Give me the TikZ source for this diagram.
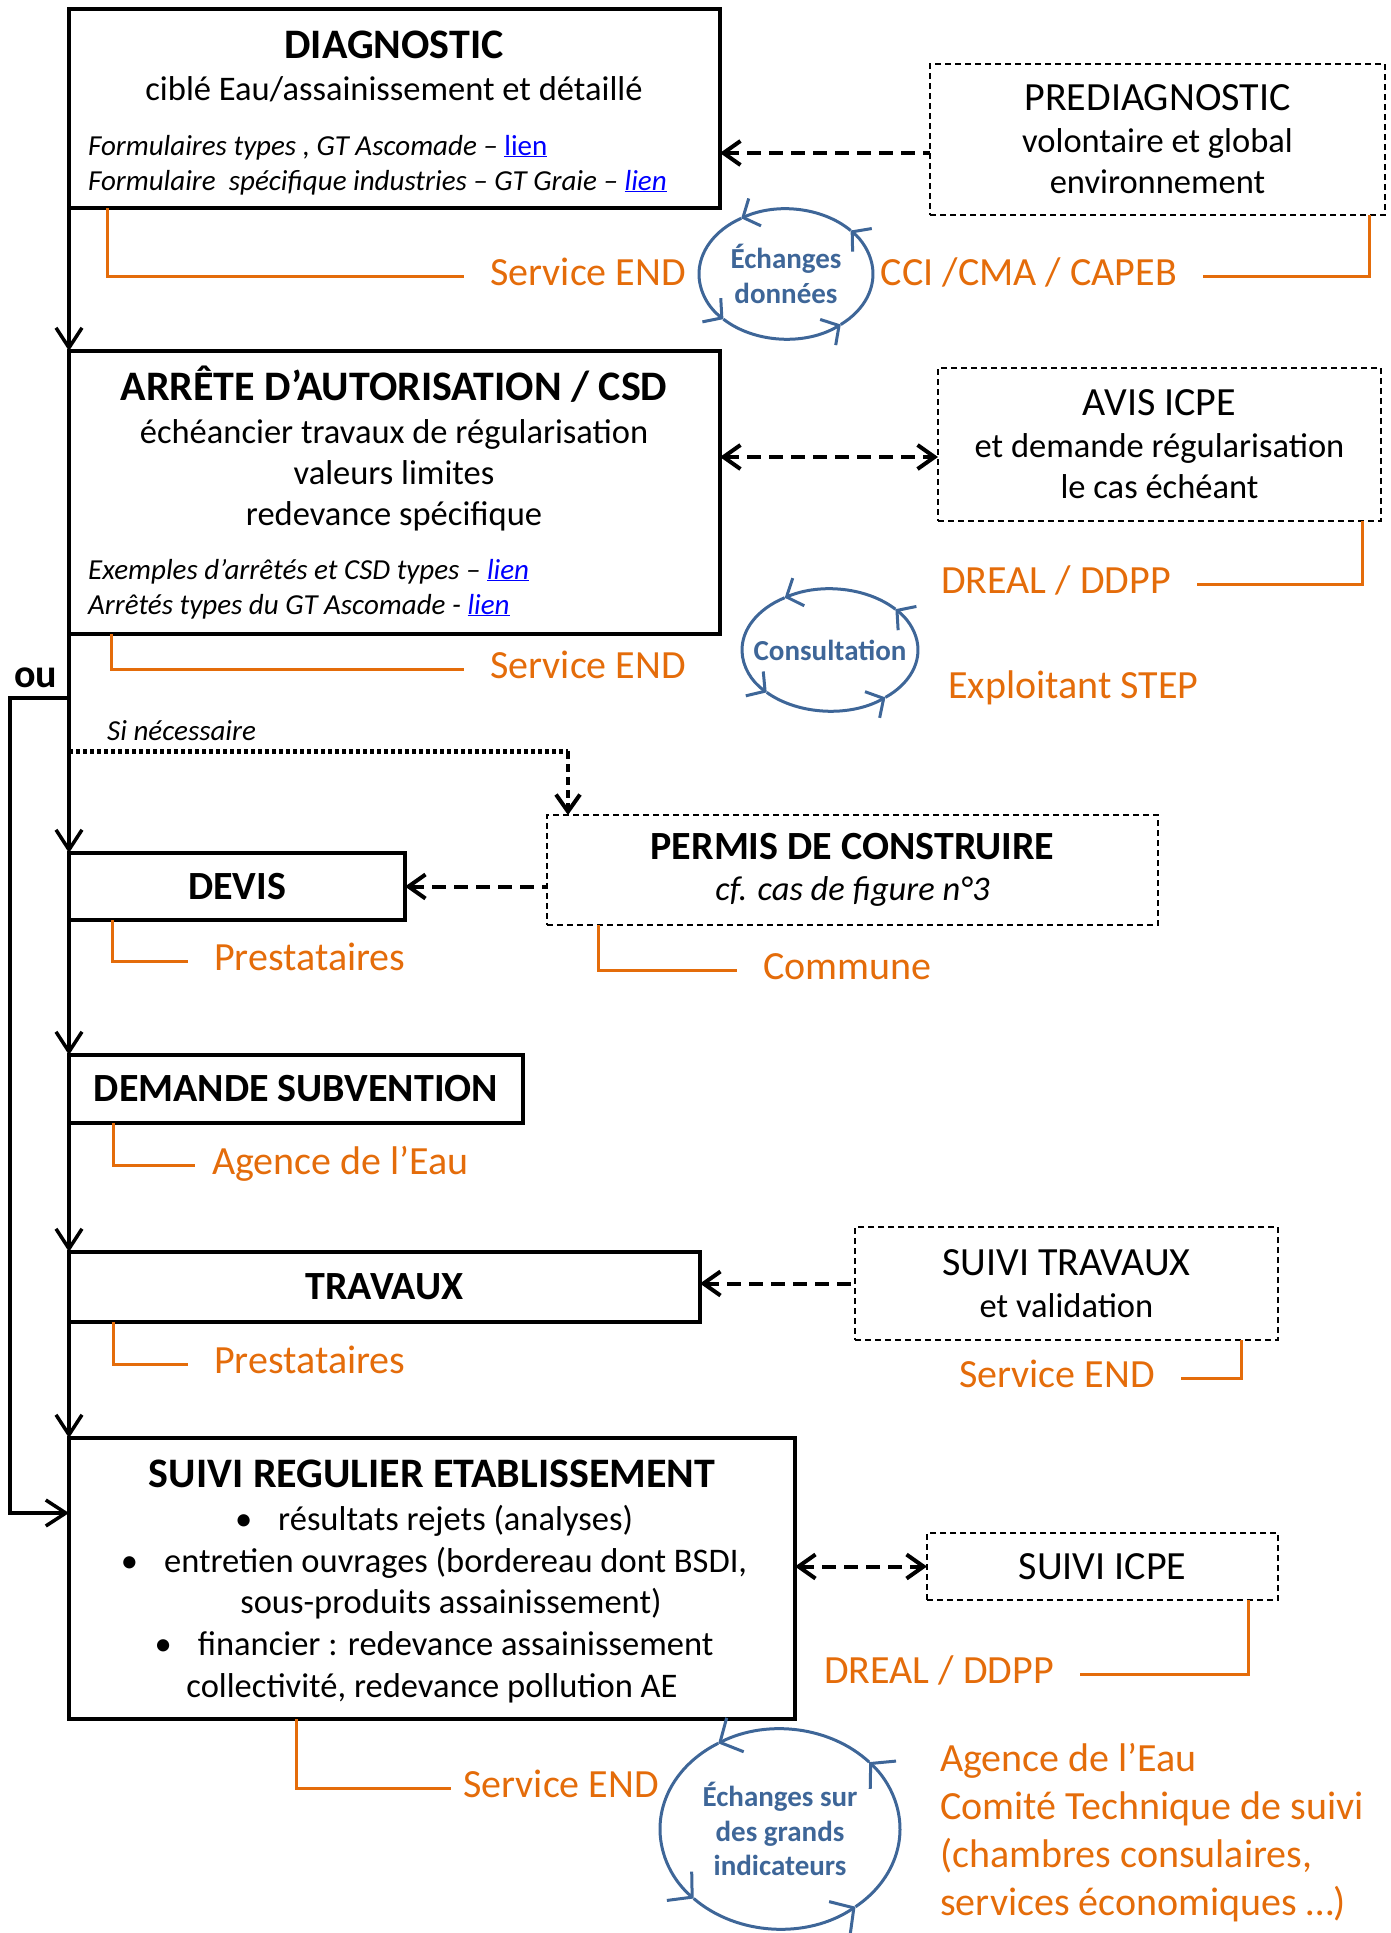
\documentclass[tikz,border=0pt]{standalone}
\usepackage{fontspec}
\setmainfont{Carlito}
\usepackage{tikz}
\usetikzlibrary{arrows.meta}
\usepackage{xcolor}
\definecolor{endorange}{RGB}{228,108,10}
\definecolor{cycbleu}{RGB}{62,102,152}
\definecolor{lienbleu}{RGB}{0,0,255}
\newcommand\ftitre{\fontsize{42}{48}\selectfont\bfseries}
\newcommand\fboite{\fontsize{40}{46}\selectfont}
\newcommand\fcorps{\fontsize{34.5}{41.5}\selectfont}
\newcommand\fpetit{\fontsize{29}{35}\selectfont\itshape}
\newcommand\forange{\fontsize{40}{48}\selectfont}
\newcommand\fcycle{\fontsize{29}{34.5}\selectfont\bfseries}
\newcommand\lien[1]{\textcolor{lienbleu}{\underline{#1}}}

\begin{document}
\begin{tikzpicture}[x=1pt, y=-1pt,
    boite/.style={draw, line width=3.5pt, inner sep=0pt, outer sep=0pt, align=center, font=\ftitre},
    option/.style={draw, line width=1.6pt, dash pattern=on 6pt off 4pt, inner sep=0pt, outer sep=0pt, align=center, font=\fcorps},
    texte/.style={inner sep=0pt},
    flux/.style={line width=3.5pt, -{Straight Barb[length=20pt,width=26pt]}},
    echange/.style={line width=4pt, dash pattern=on 14pt off 8pt},
    acteur/.style={draw=endorange, line width=3pt, shorten >=26pt},
    nom/.style={text=endorange, font=\forange, inner sep=0pt, text height=18pt, text depth=0pt},
    tourne/.style={draw=cycbleu, line width=3pt, -{Straight Barb[length=13pt,width=30pt]}},
    >={Straight Barb[length=17pt,width=24pt]}]
    \useasboundingbox (0,0) rectangle (1390,1933);

    % DIAGNOSTIC
    \node[boite, minimum width=651pt, minimum height=199pt] (diag) at (394.5,108.5) {};
    \node[texte, anchor=base, font=\ftitre] (diagT) at (394,58) {DIAGNOSTIC};
    \node[texte, anchor=base, font=\fcorps] (diagS) at (394,100) {ciblé Eau/assainissement et détaillé};
    \node[texte, anchor=base west, font=\fpetit] (diagF1) at (88,155) {Formulaires types , GT Ascomade – \lien{\upshape lien}};
    \node[texte, anchor=base west, font=\fpetit] (diagF2) at (88,190) {Formulaire\ \ spécifique industries – GT Graie – \lien{lien}};
    \node[option, minimum width=455pt, minimum height=151pt] (prediag) at (1157.5,139.5) {{\fboite PREDIAGNOSTIC}\\volontaire et global\\environnement};

    % ARRETE
    \node[boite, minimum width=651pt, minimum height=283pt] (arrete) at (394.5,492.5) {};
    \node[texte, anchor=base, font=\ftitre] (arreteT) at (394,400) {ARRÊTE D’AUTORISATION / CSD};
    \node[texte, anchor=base, font=\fcorps] (arreteS1) at (394,443) {échéancier travaux de régularisation};
    \node[texte, anchor=base, font=\fcorps] (arreteS2) at (394,484) {valeurs limites};
    \node[texte, anchor=base, font=\fcorps] (arreteS3) at (394,525) {redevance spécifique};
    \node[texte, anchor=base west, font=\fpetit] (arreteF1) at (88,579) {Exemples d’arrêtés et CSD types – \lien{lien}};
    \node[texte, anchor=base west, font=\fpetit] (arreteF2) at (88,614) {Arrêtés types du GT Ascomade - \lien{lien}};
    \node[option, minimum width=443pt, minimum height=153pt] (avis) at (1159.5,444.5) {{\fboite AVIS ICPE}\\et demande régularisation\\le cas échéant};

    % DEVIS ... TRAVAUX
    \node[boite, minimum width=336pt, minimum height=67pt, font=\fboite\bfseries] (devis) at (237,886.5) {DEVIS};
    \node[option, minimum width=611pt, minimum height=110pt] (permis) at (852.5,870) {{\fboite\bfseries PERMIS DE CONSTRUIRE}\\\textit{cf. cas de figure n°3}};
    \node[boite, minimum width=454pt, minimum height=68pt, font=\fboite\bfseries] (demande) at (296,1089) {DEMANDE SUBVENTION};
    \node[boite, minimum width=631pt, minimum height=70pt, font=\fboite\bfseries] (travaux) at (384.5,1287) {TRAVAUX};
    \node[option, minimum width=423pt, minimum height=113pt] (suivitrav) at (1066.5,1283.5) {{\fboite SUIVI TRAVAUX}\\et validation};

    % SUIVI REGULIER
    \node[boite, minimum width=726pt, minimum height=281pt] (suivi) at (432,1578.5) {};
    \node[texte, anchor=base, font=\ftitre] (suiviT) at (432,1487) {SUIVI REGULIER ETABLISSEMENT};
    \node[texte, anchor=base, font=\fcorps] (suiviL1) at (434,1530) {•\hspace{26pt}résultats rejets (analyses)};
    \node[texte, anchor=base, font=\fcorps] (suiviL2) at (434,1572) {•\hspace{26pt}entretien ouvrages (bordereau dont BSDI,};
    \node[texte, anchor=base, font=\fcorps] (suiviL3) at (451,1613) {sous-produits assainissement)};
    \node[texte, anchor=base, font=\fcorps] (suiviL4) at (434,1655) {•\hspace{26pt}financier : redevance assainissement};
    \node[texte, anchor=base, font=\fcorps] (suiviL5) at (432,1697) {collectivité, redevance pollution AE};
    \node[option, minimum width=351pt, minimum height=67pt, font=\fboite] (icpe) at (1102.5,1566.5) {SUIVI ICPE};

    % flux principal
    \draw[flux] (diag.south west) -- (arrete.north west);
    \draw[flux] (arrete.south west) -- (devis.north west);
    \draw[flux] (devis.south west) -- (demande.north west);
    \draw[flux] (demande.south west) -- (travaux.north west);
    \draw[flux] (travaux.south west) -- (suivi.north west);
    \coordinate (ou) at (69,698);
    \coordinate (oucoin) at (10,1513);
    \coordinate (ouarr) at (69,1513);
    \draw[flux] (ou) -| (oucoin) -- (ouarr);
    \node[texte, anchor=base west, font=\forange\bfseries] (ouT) at (14,687) {ou};

    % si necessaire
    \coordinate (si) at (69,751);
    \coordinate (sicoin) at (568,751);
    \draw[line width=5pt, dash pattern=on 4pt off 3pt] (si) -- (sicoin);
    \draw[line width=4pt, dash pattern=on 8pt off 5pt, ->] (sicoin) -- (permis.north west -| sicoin);
    \node[texte, anchor=base west, font=\fpetit] (siT) at (107,740) {Si nécessaire};

    % echanges
    \coordinate (pd) at ([yshift=-13.5pt]prediag.west);
    \draw[echange, <-] (diag.east |- pd) -- (pd);
    \coordinate (av) at ([yshift=-12.5pt]avis.west);
    \draw[echange, <->] (arrete.east |- av) -- (av);
    \draw[echange, <-] (devis.east) -- (devis.east -| permis.west);
    \draw[echange, <-] (travaux.east |- suivitrav.west) -- (suivitrav.west);
    \draw[echange, <->] (suivi.east |- icpe.west) -- (icpe.west);

    % acteurs
    \node[nom, anchor=base west] (servA) at (490,285) {Service END};
    \draw[acteur] ([xshift=38pt]diag.south west) |- (servA.west);
    \node[nom, anchor=base east] (cci) at (1177,285) {CCI /CMA / CAPEB};
    \draw[acteur] ([xshift=-16pt]prediag.south east) |- (cci.east);
    \node[nom, anchor=base west] (servB) at (490,678) {Service END};
    \draw[acteur] ([xshift=42pt]arrete.south west) |- (servB.west);
    \node[nom, anchor=base east] (dreal) at (1171,593) {DREAL / DDPP};
    \draw[acteur] ([xshift=-19pt]avis.south east) |- (dreal.east);
    \node[nom, anchor=base west] (exploitant) at (948,698) {Exploitant STEP};
    \node[nom, anchor=base west] (prestA) at (214,970) {Prestataires};
    \draw[acteur] ([xshift=43pt]devis.south west) |- (prestA.west);
    \node[nom, anchor=base west] (commune) at (763,979) {Commune};
    \draw[acteur] ([xshift=51pt]permis.south west) |- (commune.west);
    \node[nom, anchor=base west] (agence) at (212,1174) {Agence de l’Eau};
    \draw[acteur, shorten >=17pt] ([xshift=44pt]demande.south west) |- (agence.west);
    \node[nom, anchor=base west] (prestB) at (214,1373) {Prestataires};
    \draw[acteur] ([xshift=44pt]travaux.south west) |- (prestB.west);
    \node[nom, anchor=base east] (servC) at (1155,1387) {Service END};
    \draw[acteur] ([xshift=-37pt]suivitrav.south east) |- (servC.east);
    \node[nom, anchor=base east] (drealB) at (1054,1683) {DREAL / DDPP};
    \draw[acteur] ([xshift=-30pt]icpe.south east) |- (drealB.east);
    \node[nom, anchor=base west] (servD) at (463,1797) {Service END};
    \draw[acteur, shorten >=12pt] ([xshift=227pt]suivi.south west) |- (servD.west);
    \node[text=endorange, font=\forange, inner sep=0pt, align=left, anchor=north west] (comite) at (940,1743) {Agence de l’Eau\\Comité Technique de suivi\\(chambres consulaires,\\services économiques …)};

    % cycles
    \node[texte, font=\fcycle, text=cycbleu, align=center] (cycA) at (786,274) {Échanges\\données};
    \foreach \deb/\fin in {51/-42,-42/-121,-121/-224,-224/-309}
        \draw[tourne] ([shift={(\deb:87 and 65)}]cycA.center) arc[start angle=\deb, end angle=\fin, x radius=87, y radius=65];
    \node[texte, font=\fcycle, text=cycbleu] (cycB) at (830,650) {Consultation};
    \foreach \deb/\fin in {51/-42,-42/-121,-121/-224,-224/-309}
        \draw[tourne] ([shift={(\deb:88 and 61)}]cycB.center) arc[start angle=\deb, end angle=\fin, x radius=88, y radius=61];
    \node[texte, font=\fcycle, text=cycbleu, align=center] (cycC) at (780,1829) {Échanges sur\\des grands\\indicateurs};
    \foreach \deb/\fin in {51/-42,-42/-121,-121/-224,-224/-309}
        \draw[tourne, -{Straight Barb[length=17pt,width=38pt]}] ([shift={(\deb:120 and 100)}]cycC.center) arc[start angle=\deb, end angle=\fin, x radius=120, y radius=100];
\end{tikzpicture}
\end{document}
